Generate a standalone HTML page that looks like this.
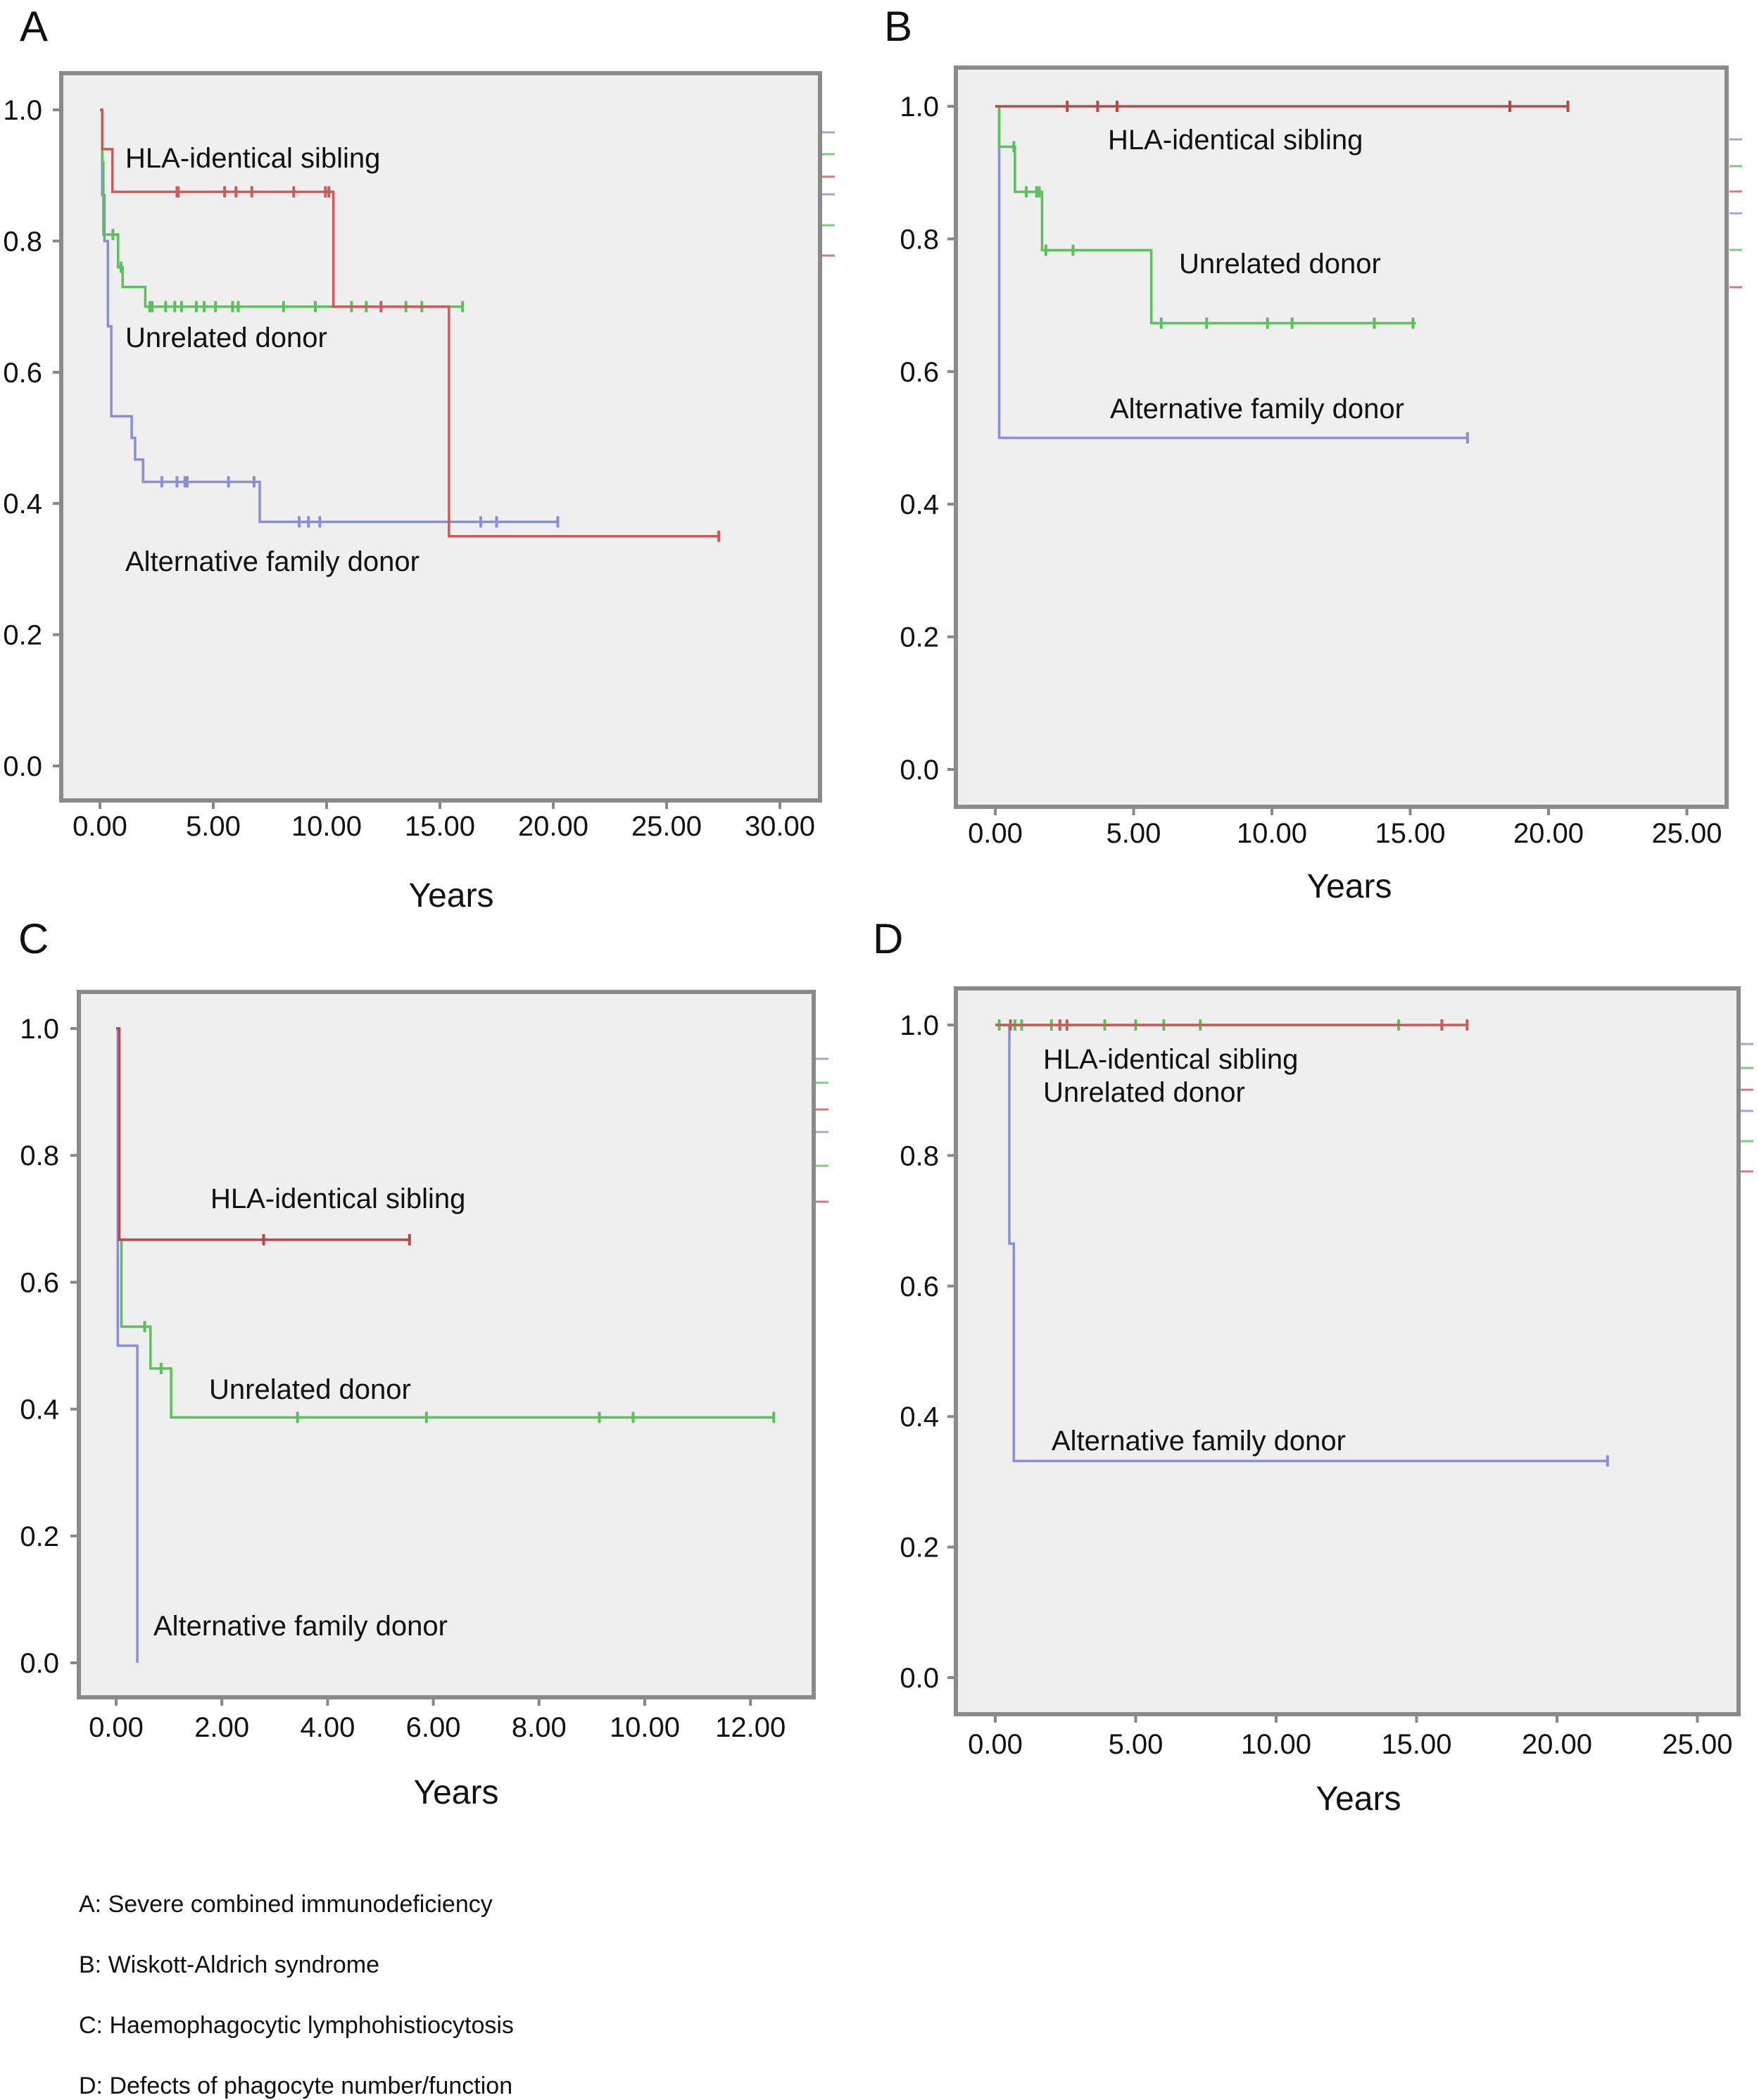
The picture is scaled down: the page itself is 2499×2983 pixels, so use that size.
<!DOCTYPE html>
<html><head><meta charset="utf-8"><style>
html,body{margin:0;padding:0;background:#fff}
svg{display:block;font-family:"Liberation Sans",Arial,sans-serif}
</style></head><body>
<svg id="fig" width="2499" height="2983" viewBox="0 0 2499 2983" xmlns="http://www.w3.org/2000/svg">
<rect width="2499" height="2983" fill="#fff"/>
<g id="foot" font-size="34" fill="#111">
<text x="112" y="2716">A: Severe combined immunodeficiency</text>
<text x="112" y="2802">B: Wiskott-Aldrich syndrome</text>
<text x="112" y="2888">C: Haemophagocytic lymphohistiocytosis</text>
<text x="112" y="2974">D: Defects of phagocyte number/function</text>
</g>
</svg>
<script>
// ---- Data (years, survival) ----
// Panel A
const aRedT=[0,0.1,0.55,10.3,15.4]; const aRedS=[1,0.94,0.875,0.70,0.35]; const aRedEnd=27.3;
const aRedC=[3.4,3.45,5.5,6.0,6.7,8.55,9.95,10.1,12.4,27.3];
const aGrnT=[0,0.1,0.15,0.8,1.0,2.0]; const aGrnS=[1,0.92,0.81,0.76,0.73,0.70]; const aGrnEnd=16.0;
const aGrnC=[0.57,0.93,2.2,2.3,2.9,3.3,3.6,4.25,4.6,5.1,5.85,6.1,8.1,9.5,11.1,11.75,13.5,14.2,16.0];
const aBluT=[0,0.1,0.2,0.35,0.5,1.4,1.55,1.9,7.05]; const aBluS=[1,0.87,0.8,0.67,0.533,0.5,0.467,0.433,0.372]; const aBluEnd=20.2;
const aBluC=[2.73,3.4,3.75,3.85,5.67,6.8,8.79,9.2,9.7,16.8,17.5,20.2];
// Panel B
const bRedT=[0]; const bRedS=[1]; const bRedEnd=20.7; const bRedC=[2.6,3.7,4.4,18.6,20.7];
const bGrnT=[0,0.14,0.71,1.69,5.64]; const bGrnS=[1,0.939,0.871,0.783,0.673]; const bGrnEnd=15.2;
const bGrnC=[0.67,1.12,1.49,1.59,1.83,2.81,6.0,7.64,9.84,10.73,13.7,15.1];
const bBluT=[0,0.14]; const bBluS=[1,0.5]; const bBluEnd=17.07; const bBluC=[17.07];
// Panel C
const cRedT=[0,0.06]; const cRedS=[1,0.667]; const cRedEnd=5.55; const cRedC=[2.79,5.55];
const cGrnT=[0,0.05,0.1,0.65,1.04]; const cGrnS=[1,0.667,0.53,0.464,0.387]; const cGrnEnd=12.44;
const cGrnC=[0.54,0.85,3.43,5.87,9.14,9.78,12.44];
const cBluT=[0,0.03,0.4]; const cBluS=[1,0.5,0]; const cBluEnd=0.4; const cBluC=[];
// Panel D
const dRedT=[0]; const dRedS=[1]; const dRedEnd=16.8; const dRedC=[0.54,2.3,2.55,15.9,16.8];
const dGrnT=[0.1]; const dGrnS=[1]; const dGrnEnd=14.36; const dGrnC=[0.14,0.7,0.94,2.0,3.9,5.0,6.0,7.3,14.36];
const dBluT=[0,0.5,0.66]; const dBluS=[1,0.665,0.332]; const dBluEnd=21.8; const dBluC=[21.8];
// Tick labels
const yTicks=[0,0.2,0.4,0.6,0.8,1.0];
const xTicksA=[0,5,10,15,20,25,30];
const xTicksB=[0,5,10,15,20,25];
const xTicksC=[0,2,4,6,8,10,12];
const xTicksD=[0,5,10,15,20,25];

const RED="#cc5a5a",GRN="#5cc05c",BLU="#8a8ed8";
const NS="http://www.w3.org/2000/svg";
const svg=document.getElementById('fig');
function mk(tag,attrs,parent){const e=document.createElementNS(NS,tag);for(const k in attrs)e.setAttribute(k,attrs[k]);(parent||svg).appendChild(e);return e;}

const panels=[
 {id:'a',letter:'A',lx:28,ly:58,frame:[87,104,1165,1137],x0:142,ppy:32.2,y1:156,y0:1088,xt:xTicksA,ylEnd:60,xlY:1187,yrX:641,yrY:1288,
  stubX:1166,stubs:[188,219,251,276,320,363],
  series:[[aBluT,aBluS,aBluEnd,aBluC,BLU,'blue'],[aGrnT,aGrnS,aGrnEnd,aGrnC,GRN,'green'],[aRedT,aRedS,aRedEnd,aRedC,RED,'red']],
  notes:[['HLA-identical sibling',178,238],['Unrelated donor',178,493],['Alternative family donor',178,811]]},
 {id:'b',letter:'B',lx:1256,ly:58,frame:[1358,96,2453,1146],x0:1414,ppy:39.3,y1:151,y0:1093,xt:xTicksB,ylEnd:1334,xlY:1197,yrX:1917,yrY:1275,
  stubX:2455,stubs:[198,236,272,303,355,408],
  series:[[bBluT,bBluS,bBluEnd,bBluC,BLU,'blue'],[bGrnT,bGrnS,bGrnEnd,bGrnC,GRN,'green'],[bRedT,bRedS,bRedEnd,bRedC,"#b84848",'red']],
  notes:[['HLA-identical sibling',1574,212],['Unrelated donor',1675,388],['Alternative family donor',1577,594]]},
 {id:'c',letter:'C',lx:26,ly:1354,frame:[112,1409,1156,2411],x0:165,ppy:75.1,y1:1461,y0:2362,xt:xTicksC,ylEnd:84,xlY:2467,yrX:648,yrY:2562,
  stubX:1157,stubs:[1504,1538,1576,1608,1656,1707],
  series:[[cBluT,cBluS,cBluEnd,cBluC,BLU,'blue'],[cGrnT,cGrnS,cGrnEnd,cGrnC,GRN,'green'],[cRedT,cRedS,cRedEnd,cRedC,"#b84848",'red']],
  notes:[['HLA-identical sibling',299,1716],['Unrelated donor',297,1987],['Alternative family donor',218,2323]]},
 {id:'d',letter:'D',lx:1240,ly:1354,frame:[1358,1404,2470,2435],x0:1414,ppy:39.9,y1:1456,y0:2383,xt:xTicksD,ylEnd:1334,xlY:2491,yrX:1930,yrY:2571,
  stubX:2471,stubs:[1483,1517,1548,1578,1621,1664],
  series:[[dBluT,dBluS,dBluEnd,dBluC,BLU,'blue'],[dGrnT,dGrnS,dGrnEnd,dGrnC,GRN,'green'],[dRedT,dRedS,dRedEnd,dRedC,RED,'red']],
  notes:[['HLA-identical sibling',1482,1518],['Unrelated donor',1482,1565],['Alternative family donor',1494,2060]]}
];

panels.forEach(p=>{
 const g=mk('g',{});
 
 
 const xs=t=>p.x0+t*p.ppy, ys=v=>p.y0-v*(p.y0-p.y1);
 const [l,t,r,b]=p.frame;
 const bg=mk('rect',{x:l,y:t,width:r-l,height:b-t,fill:'#efefef'},g);
 
 
 const lt=mk('text',{x:p.lx,y:p.ly,'font-size':60,fill:'#111'},g); lt.textContent=p.letter;
 
 
 yTicks.forEach(v=>{
  mk('line',{x1:l-12,x2:l,y1:ys(v),y2:ys(v),stroke:'#888','stroke-width':4},g);
  const tx=mk('text',{x:p.ylEnd,y:ys(v)+14,'font-size':40,'text-anchor':'end',fill:'#111'},g);
  tx.textContent=v.toFixed(1);
  
  
 });
 p.xt.forEach(v=>{
  mk('line',{x1:xs(v),x2:xs(v),y1:b,y2:b+12,stroke:'#888','stroke-width':4},g);
  const tx=mk('text',{x:xs(v),y:p.xlY,'font-size':40,'text-anchor':'middle',fill:'#111'},g);
  tx.textContent=v.toFixed(2);
  
  
 });
 const yr=mk('text',{x:p.yrX,y:p.yrY,'font-size':48,'text-anchor':'middle',fill:'#111'},g);
 yr.textContent='Years';
 
 
 p.series.forEach(s=>{
  const [T,S,end,C,col,nm]=s;
  let d='M'+xs(T[0])+' '+ys(S[0]);
  for(let i=1;i<T.length;i++){d+=' H'+xs(T[i])+' V'+ys(S[i]);}
  d+=' H'+xs(end);
  const path=mk('path',{d:d,fill:'none',stroke:col,'stroke-width':3.5},g);
  
  
  C.forEach(c=>{
   let v=S[0];for(let i=0;i<T.length;i++){if(c>=T[i])v=S[i];}
   const m=mk('line',{x1:xs(c),x2:xs(c),y1:ys(v)-8,y2:ys(v)+8,stroke:col,'stroke-width':4},g);
   
   
  });
 });
 const fr=mk('rect',{x:l,y:t,width:r-l,height:b-t,fill:'none',stroke:'#8a8a8a','stroke-width':6},g);
 
 
 const cols=[BLU,GRN,RED,BLU,GRN,RED];
 p.stubs.forEach((y,i)=>{
  const st=mk('line',{x1:p.stubX+2,x2:p.stubX+20,y1:y,y2:y,stroke:cols[i],'stroke-width':3,opacity:0.8},g);
  
  
 });
 p.notes.forEach(n=>{
  const tx=mk('text',{x:n[1],y:n[2],'font-size':40,fill:'#111'},g);
  tx.textContent=n[0];
  
  
 });
});
</script>
</body></html>
